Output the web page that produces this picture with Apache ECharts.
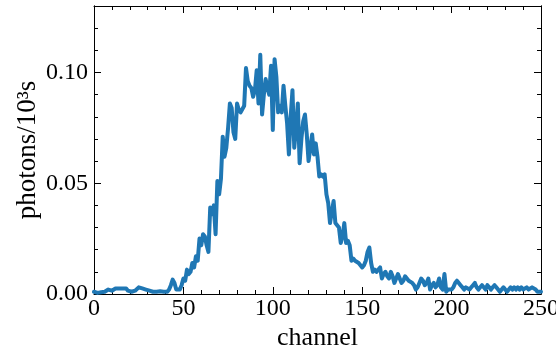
<!DOCTYPE html>
<html><head><meta charset="utf-8">
<script src="https://cdn.jsdelivr.net/npm/echarts@6/dist/echarts.min.js"></script>
<style>html,body{margin:0;padding:0;background:#fff}#c{width:556px;height:347px}</style>
</head><body><div id="c"></div>
<script>
const channelStart = 0;
const photonRate = [
0.001,0.001,0.0005,0.001,0.0008,0.001,0.001,0.0015,0.002,0.002,
0.0015,0.002,0.0025,0.002,0.0025,0.002,0.0025,0.002,0.0025,0.0015,
0.001,0.001,0.001,0.0015,0.002,0.003,0.0035,0.0025,0.003,0.002,
0.0025,0.0015,0.001,0.001,0.0015,0.001,0.001,0.0012,0.001,0.001,
0.0012,0.001,0.002,0.004,0.0065,0.005,0.002,0.0015,0.002,0.004,
0.007,0.006,0.011,0.009,0.010,0.014,0.012,0.017,0.015,0.025,
0.022,0.027,0.026,0.022,0.019,0.039,0.036,0.040,0.027,0.051,
0.045,0.052,0.071,0.062,0.066,0.075,0.086,0.084,0.073,0.070,
0.086,0.083,0.082,0.082,0.085,0.102,0.096,0.094,0.093,0.089,
0.092,0.101,0.086,0.108,0.081,0.090,0.097,0.093,0.090,0.103,
0.074,0.106,0.098,0.082,0.085,0.082,0.094,0.085,0.077,0.063,
0.080,0.092,0.066,0.075,0.086,0.059,0.070,0.078,0.081,0.072,
0.060,0.066,0.072,0.063,0.068,0.062,0.053,0.054,0.053,0.054,
0.045,0.041,0.032,0.037,0.042,0.032,0.031,0.030,0.023,0.026,
0.032,0.023,0.024,0.022,0.015,0.016,0.015,0.015,0.014,0.014,
0.012,0.013,0.015,0.019,0.021,0.014,0.010,0.011,0.010,0.010,
0.012,0.007,0.009,0.010,0.008,0.007,0.010,0.008,0.005,0.007,
0.009,0.007,0.005,0.006,0.008,0.007,0.006,0.006,0.005,0.004,
0.002,0.003,0.005,0.007,0.006,0.004,0.005,0.007,0.002,0.004,
0.005,0.003,0.004,0.007,0.003,0.002,0.009,0.001,0.002,0.002,
0.002,0.003,0.005,0.006,0.005,0.004,0.003,0.002,0.003,0.003,
0.002,0.003,0.004,0.005,0.003,0.002,0.003,0.004,0.003,0.002,
0.004,0.003,0.002,0.003,0.004,0.003,0.002,0.001,0.002,0.003,
0.002,0.001,0.002,0.003,0.002,0.003,0.002,0.003,0.002,0.003,
0.002,0.002,0.003,0.002,0.002,0.003,0.003,0.002,0.001,0.001,
0.001
];
const xTickLabels = [0, 50, 100, 150, 200, 250];
const yTickLabels = [0.00, 0.05, 0.10];
const xLabel = 'channel';
const yLabel = 'photons/10³s';

const FONT = 'Liberation Serif';
const black = '#000';
const baseLine = {show: true, onZero: false, lineStyle: {color: black, width: 1}};
function xAx(pos, labels) {
  return {
    type: 'value', position: pos, min: xTickLabels[0], max: xTickLabels[xTickLabels.length - 1],
    interval: xTickLabels[1] - xTickLabels[0],
    axisLine: baseLine, splitLine: {show: false},
    axisTick: {show: true, inside: true, length: 7, lineStyle: {color: black, width: 1}},
    minorTick: {show: true, splitNumber: 5, length: 4, lineStyle: {color: black, width: 1}},
    axisLabel: {show: labels, fontFamily: FONT, fontSize: 24, color: black, margin: 3, hideOverlap: false},
    name: labels ? xLabel : '', nameLocation: 'middle', nameGap: 31, nameMoveOverlap: false,
    nameTextStyle: {fontFamily: FONT, fontSize: 26, color: black}
  };
}
function yAx(pos, major, labels) {
  return {
    type: 'value', position: pos, min: 0, max: 0.13,
    interval: major ? yTickLabels[1] - yTickLabels[0] : 0.01,
    axisLine: baseLine, splitLine: {show: false},
    axisTick: {show: true, inside: true, length: major ? 7 : 4, lineStyle: {color: black, width: 1}},
    minorTick: {show: false},
    axisLabel: {show: labels, fontFamily: FONT, fontSize: 24, color: black, margin: 6,
      showMaxLabel: false, formatter: v => v.toFixed(2)},
    name: labels ? yLabel : '', nameLocation: 'middle', nameGap: 53, nameMoveOverlap: false,
    nameTextStyle: {fontFamily: FONT, fontSize: 27, color: black}
  };
}
const chart = echarts.init(document.getElementById('c'), null, {renderer: 'canvas'});
chart.setOption({
  animation: false,
  backgroundColor: '#fff',
  grid: {left: 94, right: 15, top: 6, bottom: 53, containLabel: false, outerBoundsMode: 'none'},
  xAxis: [xAx('bottom', true), xAx('top', false)],
  yAxis: [yAx('left', true, true), yAx('left', false, false), yAx('right', true, false), yAx('right', false, false)],
  series: [{
    type: 'line', xAxisIndex: 0, yAxisIndex: 0, symbol: 'none', clip: false,
    data: photonRate.map((v, i) => [i + channelStart, v]),
    lineStyle: {color: '#1f77b4', width: 4, join: 'round', cap: 'round'}
  }]
});
</script></body></html>
